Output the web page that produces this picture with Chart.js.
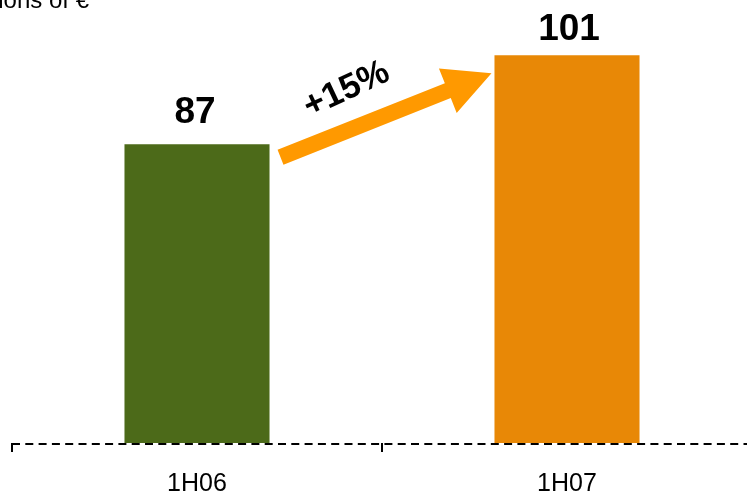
<!DOCTYPE html>
<html><head><meta charset="utf-8">
<script src="https://cdn.jsdelivr.net/npm/chart.js@4/dist/chart.umd.min.js"></script>
<style>html,body{margin:0;padding:0;overflow:hidden;background:#fff;width:747px;height:493px}
#wrap{width:752px;height:493px;position:relative}</style>
</head><body><div id="wrap"><canvas id="c"></canvas></div>
<script>
const categories = ["1H06", "1H07"];
const values = [87, 101];
const growthLabel = "+15%";
const unitLabel = "Millions of €";
const barColors = ["#4C6A19", "#E88806"];

const overlay = {
  id: 'overlay',
  afterDatasetsDraw(chart) {
    const ctx = chart.ctx;
    const area = chart.chartArea;
    const meta = chart.getDatasetMeta(0);
    const b1 = meta.data[0], b2 = meta.data[1];
    const w1 = b1.width / 2, w2 = b2.width / 2;
    ctx.save();
    // dashed axis line
    ctx.strokeStyle = '#000';
    ctx.lineWidth = 2;
    ctx.setLineDash([8, 5.3]);
    ctx.beginPath();
    ctx.moveTo(area.left, area.bottom + 1);
    ctx.lineTo(chart.width, area.bottom + 1);
    ctx.stroke();
    ctx.setLineDash([]);
    // value labels
    ctx.fillStyle = '#000';
    ctx.font = 'bold 37px "Liberation Sans", Arial, sans-serif';
    ctx.textAlign = 'center';
    ctx.textBaseline = 'middle';
    const offs = [-31, -25];
    values.forEach((v, i) => {
      const b = meta.data[i];
      ctx.fillText(String(v), b.x - 2 + i * 4, b.y + offs[i]);
    });
    // arrow
    const sx = b1.x + w1 + 11, sy = b1.y + 13;
    const tx = b2.x - w2 - 3, ty = b2.y + 18;
    const ang = Math.atan2(ty - sy, tx - sx);
    const len = Math.hypot(tx - sx, ty - sy);
    ctx.translate(sx, sy);
    ctx.rotate(ang);
    ctx.fillStyle = '#FF9900';
    const hw = 8, hl = 47, hh = 24;
    ctx.beginPath();
    ctx.moveTo(0, -hw);
    ctx.lineTo(len - hl, -hw);
    ctx.lineTo(len - hl, -hh);
    ctx.lineTo(len, 0);
    ctx.lineTo(len - hl, hh);
    ctx.lineTo(len - hl, hw);
    ctx.lineTo(0, hw);
    ctx.closePath();
    ctx.fill();
    // growth label
    ctx.fillStyle = '#000';
    ctx.rotate(-0.06);
    ctx.font = 'bold 35px "Liberation Sans", Arial, sans-serif';
    ctx.textAlign = 'center';
    ctx.textBaseline = 'middle';
    ctx.fillText(growthLabel, len * 0.39, -33);
    ctx.restore();
    // unit label
    ctx.save();
    ctx.fillStyle = '#000';
    ctx.font = '24px "Liberation Sans", Arial, sans-serif';
    ctx.textAlign = 'right';
    ctx.textBaseline = 'alphabetic';
    ctx.fillText(unitLabel, 89, 8);
    ctx.restore();
  }
};

new Chart(document.getElementById('c'), {
  type: 'bar',
  data: {
    labels: categories,
    datasets: [{ data: values, backgroundColor: barColors, borderWidth: 0,
      barPercentage: 1, categoryPercentage: 0.392 }]
  },
  options: {
    responsive: true, maintainAspectRatio: false, animation: false,
    layout: { padding: { left: 12, right: 0, top: 0, bottom: 0 } },
    plugins: { legend: { display: false }, tooltip: { enabled: false } },
    scales: {
      y: { display: false, min: 40, max: 109.7 },
      x: {
        afterFit(s) { s.height = 50; },
        grid: { offset: true, drawOnChartArea: false, drawTicks: true, tickLength: 9, color: '#000', lineWidth: 2 },
        border: { display: false },
        ticks: { color: '#000', padding: 17, font: { family: '"Liberation Sans", Arial, sans-serif', size: 25 } }
      }
    }
  },
  plugins: [overlay]
});
</script></body></html>
